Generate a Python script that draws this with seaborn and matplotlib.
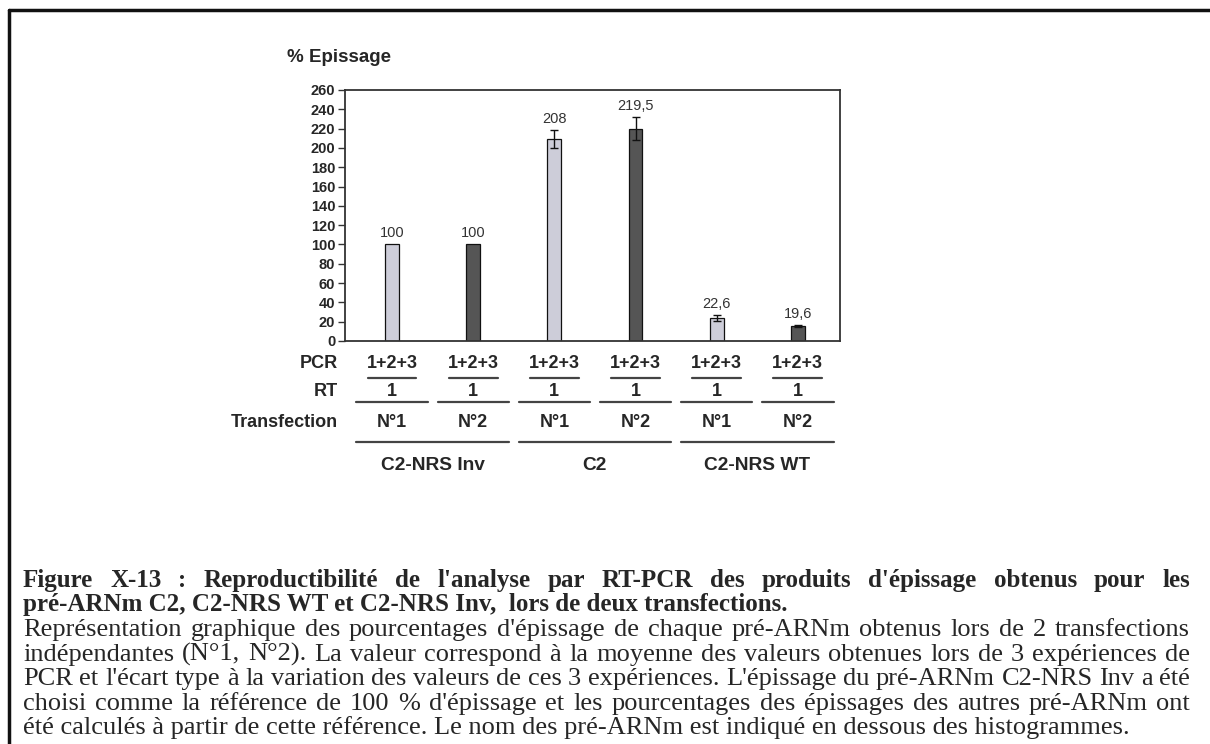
import pandas as pd
import matplotlib.pyplot as plt
import matplotlib.transforms as mtransforms
from matplotlib.lines import Line2D
import seaborn as sns

# données
echantillons = ["C2-NRS Inv N°1", "C2-NRS Inv N°2", "C2 N°1", "C2 N°2", "C2-NRS WT N°1", "C2-NRS WT N°2"]
transfections = ["N°1", "N°2", "N°1", "N°2", "N°1", "N°2"]
epissage = [100, 100, 209, 220, 23.6, 15.6]
ecart_type = [0, 0, 9.5, 12, 3, 1]
etiquettes = ["100", "100", "208", "219,5", "22,6", "19,6"]
pcr = ["1+2+3"] * 6
rt = ["1"] * 6
groupes = ["C2-NRS Inv", "C2", "C2-NRS WT"]
graduations = list(range(0, 261, 20))

legende_titre = [
    "Figure X-13 : Reproductibilité de l'analyse par RT-PCR des produits d'épissage obtenus pour les",
    "pré-ARNm C2, C2-NRS WT et C2-NRS Inv,  lors de deux transfections.",
]
legende_texte = [
    "Représentation graphique des pourcentages d'épissage de chaque pré-ARNm obtenus lors de 2 transfections",
    "indépendantes (N°1, N°2). La valeur correspond à la moyenne des valeurs obtenues lors de 3 expériences de",
    "PCR et l'écart type à la variation des valeurs de ces 3 expériences. L'épissage du pré-ARNm C2-NRS Inv a été",
    "choisi comme la référence de 100 %  d'épissage et les pourcentages des épissages des autres pré-ARNm ont",
    "été calculés à partir de cette référence. Le nom des pré-ARNm est indiqué en dessous des histogrammes.",
]

df = pd.DataFrame({"echantillon": echantillons, "pct": epissage, "transfection": transfections})

sns.set_style("white")
plt.rcParams["font.family"] = ["Liberation Sans", "DejaVu Sans"]

W, H = 1210, 744
fig = plt.figure(figsize=(W / 100, H / 100), dpi=100)
ax = fig.add_axes([345 / W, 1 - 341 / H, 495 / W, 251 / H])

sns.barplot(data=df, x="echantillon", y="pct", hue="transfection",
            palette={"N°1": "#cbcbdb", "N°2": "#555555"}, dodge=False, width=0.17,
            edgecolor="#111111", linewidth=0.9, legend=False, ax=ax)

# barres d'erreur (écart type)
idx = [i for i, e in enumerate(ecart_type) if e > 0]
ax.errorbar(idx, [epissage[i] for i in idx], yerr=[ecart_type[i] for i in idx],
            fmt="none", ecolor="#111111", elinewidth=1, capsize=3, capthick=1)

for i, (v, e, lab) in enumerate(zip(epissage, ecart_type, etiquettes)):
    ax.annotate(lab, (i, v + e), xytext=(0, 3), textcoords="offset points",
                ha="center", va="bottom", fontsize=10.5, color="#333333")

ax.set_xlim(-0.58, 5.52)
ax.set_ylim(0, 260)
ax.set_yticks(graduations)
ax.set_yticklabels([str(g) for g in graduations], fontweight="bold", fontsize=10.5)
ax.set_xticks([])
ax.set_xlabel("")
ax.set_ylabel("")
ax.tick_params(axis="y", left=True, length=5, width=1, pad=2, color="#333333")
for s in ax.spines.values():
    s.set_visible(True)
    s.set_color("#333333")
    s.set_linewidth(1.3)

fig.text(287 / W, 1 - 57 / H, "% Epissage", fontsize=13.5, fontweight="bold", va="center")

# tableau sous l'histogramme (x en données, y en pixels de la figure)
tr = mtransforms.blended_transform_factory(ax.transData, fig.transFigure)


def fy(px):
    return 1 - px / H


for nom, ypx in [("PCR", 363), ("RT", 392), ("Transfection", 422)]:
    fig.text(338 / W, fy(ypx), nom, ha="right", va="center", fontsize=13, fontweight="bold")

for i in range(6):
    ax.text(i, fy(363), pcr[i], transform=tr, ha="center", va="center", fontsize=13, fontweight="bold", clip_on=False)
    ax.text(i, fy(392), rt[i], transform=tr, ha="center", va="center", fontsize=13, fontweight="bold", clip_on=False)
    ax.text(i, fy(422), transfections[i], transform=tr, ha="center", va="center", fontsize=13, fontweight="bold", clip_on=False)
    ax.add_line(Line2D([i - 0.3, i + 0.3], [fy(378)] * 2, transform=tr, color="#444444", lw=1.6, clip_on=False))
    ax.add_line(Line2D([i - 0.44, i + 0.44], [fy(402)] * 2, transform=tr, color="#444444", lw=1.6, clip_on=False))

for g, nom in enumerate(groupes):
    a, b = 2 * g, 2 * g + 1
    ax.add_line(Line2D([a - 0.44, b + 0.44], [fy(442)] * 2, transform=tr, color="#444444", lw=1.6, clip_on=False))
    ax.text((a + b) / 2, fy(465), nom, transform=tr, ha="center", va="center", fontsize=13.8, fontweight="bold", clip_on=False)

# cadre (haut et gauche)
fig.add_artist(Line2D([9 / W, 1], [fy(10)] * 2, transform=fig.transFigure, color="#111111", lw=2.5))
fig.add_artist(Line2D([9 / W] * 2, [fy(10), 0], transform=fig.transFigure, color="#111111", lw=2.5))

# légende de la figure, texte justifié
renderer = fig.canvas.get_renderer()
x0, x1 = 23, 1190
serif = ["Liberation Serif", "DejaVu Serif"]


def ligne(texte, ypx, gras, justifie, taille):
    poids = "bold" if gras else "normal"
    if not justifie:
        fig.text(x0 / W, fy(ypx), texte, family=serif, fontsize=taille, fontweight=poids, va="baseline")
        return
    mots = texte.split()
    objs = [fig.text(0, fy(ypx), m, family=serif, fontsize=taille, fontweight=poids, va="baseline") for m in mots]
    larg = [o.get_window_extent(renderer).width for o in objs]
    ecart = (x1 - x0 - sum(larg)) / (len(mots) - 1)
    x = x0
    for o, w in zip(objs, larg):
        o.set_x(x / W)
        x += w + ecart


ligne(legende_titre[0], 587, True, True, 18)
ligne(legende_titre[1], 611, True, False, 18)
for k, t in enumerate(legende_texte):
    ligne(t, 636 + 24.6 * k, False, k < len(legende_texte) - 1, 19)

fig.savefig("out.png", dpi=100)
plt.close()
